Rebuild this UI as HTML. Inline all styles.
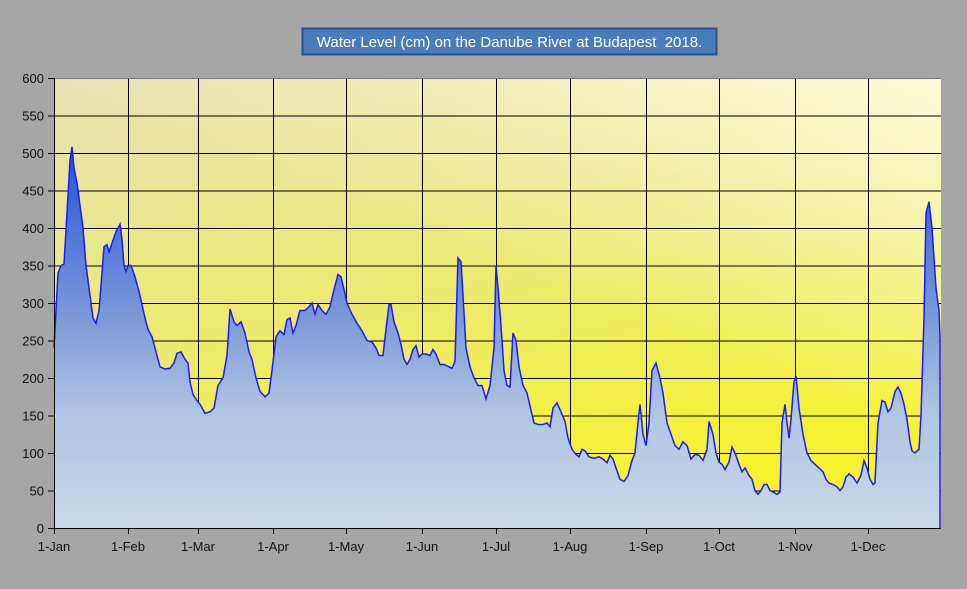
<!DOCTYPE html>
<html><head><meta charset="utf-8"><style>
body{margin:0;background:#a6a6a6;}
svg{display:block;font-family:"Liberation Sans",sans-serif;}
</style></head><body>
<svg id="s" width="967" height="589" viewBox="0 0 967 589">
<defs>
<linearGradient id="bg" x1="0" y1="0" x2="0.35" y2="1">
<stop offset="0" stop-color="#e6e2b6"/>
<stop offset="0.55" stop-color="#ecea70"/>
<stop offset="1" stop-color="#f6f230"/>
</linearGradient>
<linearGradient id="bg2" x1="1" y1="0" x2="0.6" y2="0.5">
<stop offset="0" stop-color="#fffde0" stop-opacity="0.9"/>
<stop offset="1" stop-color="#fffde0" stop-opacity="0"/>
</linearGradient>
<linearGradient id="fl" gradientUnits="userSpaceOnUse" x1="0" y1="140" x2="0" y2="528">
<stop offset="0" stop-color="#1f4fd8"/>
<stop offset="0.45" stop-color="#7b98d8"/>
<stop offset="0.7" stop-color="#b0c4e2"/>
<stop offset="1" stop-color="#cad9ea"/>
</linearGradient>
</defs>
<rect x="54" y="78" width="887" height="450" fill="url(#bg)"/>
<rect x="54" y="78" width="887" height="450" fill="url(#bg2)"/>
<g id="grid" stroke="#000" stroke-width="1"></g>
<path id="area" fill="url(#fl)" stroke="none"/>
<path id="line" fill="none" stroke="#1a1aff" stroke-width="1.5"/>
<line x1="54" y1="78.5" x2="941" y2="78.5" stroke="#777"/>
<line x1="54.5" y1="78" x2="54.5" y2="528" stroke="#000"/>
<line x1="48" y1="528.5" x2="941" y2="528.5" stroke="#000"/>
<g id="lab" font-size="13" fill="#111"></g>
<rect x="302.5" y="28.5" width="414" height="26" fill="#4a7cbc" stroke="#2d5188" stroke-width="2"/>
<text x="509.5" y="47" font-size="15" fill="#fff" text-anchor="middle">Water Level (cm) on the Danube River at Budapest&#160; 2018.</text>
</svg>
<script>
var ns="http://www.w3.org/2000/svg";
function el(p,t,a,txt){var e=document.createElementNS(ns,t);for(var k in a)e.setAttribute(k,a[k]);if(txt)e.textContent=txt;p.appendChild(e);return e;}
var g=document.getElementById("grid"),lab=document.getElementById("lab");
for(var v=0;v<=600;v+=50){var y=528-v*0.75;
 if(v>0&&v<600)el(g,"line",{x1:54,x2:941,y1:y+0.5,y2:y+0.5});
 el(g,"line",{x1:48,x2:54,y1:y+0.5,y2:y+0.5});
 el(lab,"text",{x:44,y:y+5,"text-anchor":"end"},String(v));}
var mx=[54,128,198,273,346,422,496,570,646,719,795,868],mn=["1-Jan","1-Feb","1-Mar","1-Apr","1-May","1-Jun","1-Jul","1-Aug","1-Sep","1-Oct","1-Nov","1-Dec"];
for(var i=0;i<12;i++){var x=mx[i];
 if(i>0)el(g,"line",{x1:x+0.5,x2:x+0.5,y1:78,y2:528});
 el(g,"line",{x1:x+0.5,x2:x+0.5,y1:528,y2:534});
 el(lab,"text",{x:x,y:551,"text-anchor":"middle"},mn[i]);}
var d=[54,240,58,340,61,350,64,352,67,420,70,490,72,508,74,480,77,460,80,430,83,400,86,350,90,310,93,280,96,273,99,290,102,340,104,375,107,378,109,368,112,380,116,395,120,405,122,385,124,350,126,342,128,350,131,350,135,335,140,310,145,280,148,265,152,255,156,235,160,215,165,212,170,213,174,220,177,233,181,235,185,225,188,220,190,195,193,178,197,170,200,165,205,153,210,155,214,160,218,190,223,200,227,230,230,292,234,275,237,270,241,275,245,260,249,235,252,225,256,200,260,182,265,175,269,180,272,210,276,255,280,263,284,258,287,278,290,280,293,260,296,270,300,290,305,290,309,295,312,300,315,285,318,298,322,290,326,285,330,295,334,318,338,338,341,335,344,318,347,300,352,285,357,273,362,263,367,250,372,248,376,240,379,230,383,230,386,265,389,298,391,298,394,275,398,260,401,245,404,225,407,218,410,225,413,238,416,243,419,228,422,232,426,232,430,230,433,238,436,232,440,218,444,218,449,215,452,213,455,222,458,360,461,355,463,310,466,240,470,215,474,200,478,190,482,190,486,172,490,190,494,240,496,350,498,320,501,270,504,210,507,190,510,188,513,260,516,250,519,215,523,190,527,180,530,163,534,140,538,138,543,138,547,140,550,135,553,160,557,167,561,155,565,142,568,120,572,105,576,98,579,95,582,105,585,103,589,95,594,93,599,95,603,92,607,87,610,97,613,92,616,80,620,65,624,62,628,70,632,90,635,100,638,140,640,165,643,125,646,110,649,140,652,210,656,220,660,200,663,180,667,140,671,125,675,110,679,105,683,115,687,110,691,92,695,98,699,97,703,90,707,105,709,142,713,125,716,100,719,88,722,85,725,78,729,88,732,108,735,100,739,85,742,75,745,80,749,70,752,65,755,50,758,45,761,50,764,58,767,58,770,50,773,48,777,45,780,48,782,140,785,165,787,140,789,120,791,145,794,195,796,203,799,160,803,125,807,100,811,90,815,85,819,80,823,75,826,65,829,60,833,58,837,55,840,50,843,55,846,68,849,72,853,68,857,60,861,70,864,90,867,80,870,65,873,58,875,60,878,140,882,170,885,168,888,155,891,160,895,182,898,188,901,180,904,165,907,145,910,115,912,103,915,100,917,103,919,105,921,150,924,280,926,420,929,435,932,400,936,320,939,290,940,255,940,0];
var p="";for(var i=0;i<d.length;i+=2){p+=(i?"L":"M")+d[i]+","+(528-d[i+1]*0.75).toFixed(1);}
document.getElementById("line").setAttribute("d",p);
document.getElementById("area").setAttribute("d",p+"L54,528Z");
</script>
</body></html>
